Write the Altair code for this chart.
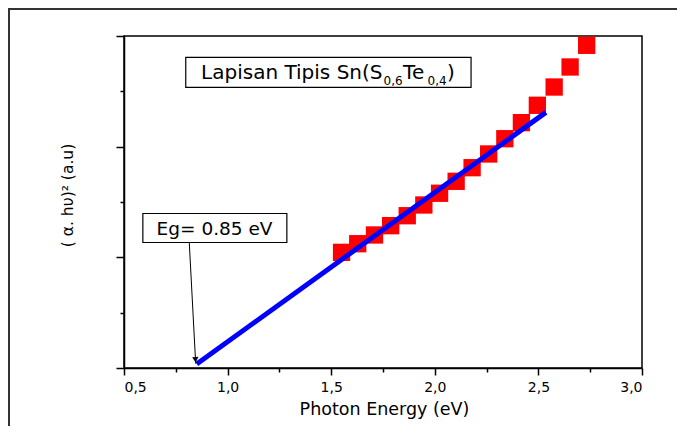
import altair as alt
import pandas as pd

# ---- data ----
energy = [1.550, 1.628, 1.709, 1.787, 1.867, 1.947, 2.023, 2.103,
          2.180, 2.260, 2.338, 2.418, 2.495, 2.576, 2.653, 2.733]
absorb = [1.045, 1.123, 1.202, 1.286, 1.376, 1.473, 1.579, 1.687,
          1.810, 1.934, 2.072, 2.217, 2.374, 2.539, 2.720, 2.916]
fit_x = [0.851, 2.536]
fit_y = [0.036, 2.310]
x_major = [0.5, 1.0, 1.5, 2.0, 2.5, 3.0]
x_minor = [0.75, 1.25, 1.75, 2.25, 2.75]
y_major = [0, 1, 2, 3]
y_minor = [0.5, 1.5, 2.5]

FONT = "DejaVu Sans"
W, H = 518, 332
PADL, PADT, PADR, PADB = 116, 28, 35, 58

pts = pd.DataFrame({"x": energy, "y": absorb})
fit = pd.DataFrame({"x": fit_x, "y": fit_y})

xs = alt.Scale(domain=[0.5, 3.0], nice=False, zero=False)
ys = alt.Scale(domain=[0, 3], nice=False, zero=False)

x_axis_major = alt.Axis(values=x_major, orient="bottom", tickSize=7, tickWidth=1.5,
                        domainWidth=1.5, domainColor="black", tickColor="black",
                        labelExpr="replace(format(datum.value, '.1f'), '.', ',')",
                        labelFont=FONT, labelFontSize=14, labelColor="black", labelPadding=5,
                        title="Photon Energy (eV)", titleFont=FONT, titleFontSize=17.5,
                        titleFontWeight="normal", titleColor="black",
                        titleX=W / 2 + 1, titleY=46, titleBaseline="alphabetic", grid=False)
x_axis_minor = alt.Axis(values=x_minor, orient="bottom", tickSize=4, tickWidth=1.5,
                        tickColor="black", labels=False, domain=False, title=None, grid=False)
y_axis_major = alt.Axis(values=y_major, orient="left", tickSize=8, tickWidth=1.5,
                        domainWidth=1.5, domainColor="black", tickColor="black",
                        labels=False, title="( α. hυ)² (a.u)", titleFont=FONT,
                        titleFontSize=15.5, titleFontWeight="normal", titleColor="black",
                        titleX=-57, titleY=159, titleAngle=270, titleAlign="center",
                        titleBaseline="middle", grid=False)
y_axis_minor = alt.Axis(values=y_minor, orient="left", tickSize=4, tickWidth=1.5,
                        tickColor="black", labels=False, domain=False, title=None, grid=False)

squares = alt.Chart(pts).mark_square(size=300, color="#ff0000", opacity=1).encode(
    x=alt.X("x:Q", scale=xs, axis=x_axis_major),
    y=alt.Y("y:Q", scale=ys, axis=y_axis_major),
)

line = alt.Chart(fit).mark_line(color="#0000ff", strokeWidth=5, strokeCap="butt").encode(
    x=alt.X("x:Q", scale=xs, axis=x_axis_minor),
    y=alt.Y("y:Q", scale=ys, axis=y_axis_minor),
)

# arrow from the Eg box to the intercept
arrow_df = pd.DataFrame({"x": [0.815], "y": [1.134], "x2": [0.846], "y2": [0.04]})
arrow = alt.Chart(arrow_df).mark_rule(color="black", strokeWidth=1).encode(
    x=alt.X("x:Q", scale=xs, axis=None), y=alt.Y("y:Q", scale=ys, axis=None),
    x2="x2:Q", y2="y2:Q",
)
head_df = pd.DataFrame({"x": [0.845], "y": [0.075]})
head = alt.Chart(head_df).mark_point(shape="triangle-down", size=40, filled=True,
                                     color="black", opacity=1, angle=357).encode(
    x=alt.X("x:Q", scale=xs, axis=None), y=alt.Y("y:Q", scale=ys, axis=None),
)

# annotation boxes
box_df = pd.DataFrame({"x": [0.798, 0.591], "x2": [2.175, 1.286],
                       "y": [2.806, 1.396], "y2": [2.535, 1.134]})
boxes = alt.Chart(box_df).mark_rect(fill="white", stroke="black", strokeWidth=1.2).encode(
    x=alt.X("x:Q", scale=xs, axis=None), x2="x2:Q",
    y=alt.Y("y:Q", scale=ys, axis=None), y2="y2:Q",
)

def label(text, x, y, size, dx=0, dy=0, align="left"):
    d = pd.DataFrame({"x": [x], "y": [y], "t": [text]})
    return alt.Chart(d).mark_text(font=FONT, fontSize=size, color="black", align=align,
                                  baseline="alphabetic", dx=dx, dy=dy).encode(
        x=alt.X("x:Q", scale=xs, axis=None), y=alt.Y("y:Q", scale=ys, axis=None),
        text="t:N")

tx0, ty0 = 0.872, 2.615
title_parts = [
    label("Lapisan Tipis Sn(S", tx0, ty0, 20, dx=0),
    label("0,6", tx0, ty0, 12, dx=182.5, dy=6),
    label("Te", tx0, ty0, 20, dx=202),
    label("0,4", tx0, ty0, 12, dx=226.5, dy=6),
    label(")", tx0, ty0, 20, dx=246),
]
eg = label("Eg= 0.85 eV", 0.937, 1.206, 18.5, align="center")

frame_df = pd.DataFrame({"a": [0]})
border_top = alt.Chart(frame_df).mark_rule(color="#333333", strokeWidth=2, strokeCap="butt").encode(
    x=alt.value(-PADL), x2=alt.value(W + PADR), y=alt.value(-PADT + 1))
border_left = alt.Chart(frame_df).mark_rule(color="#333333", strokeWidth=2, strokeCap="butt").encode(
    x=alt.value(-PADL + 1), x2=alt.value(-PADL + 1), y=alt.value(-PADT), y2=alt.value(H + PADB))

chart = alt.layer(
    squares, line, arrow, head, boxes, *title_parts, eg, border_top, border_left
).resolve_axis(x="independent", y="independent").properties(
    width=W, height=H,
    padding={"left": PADL, "top": PADT, "right": PADR, "bottom": PADB},
    autosize=alt.AutoSizeParams(type="none"),
    background="white",
).configure_view(stroke="black", strokeWidth=1.5)

chart.save("out.html", embed_options={"renderer": "svg", "actions": False})
